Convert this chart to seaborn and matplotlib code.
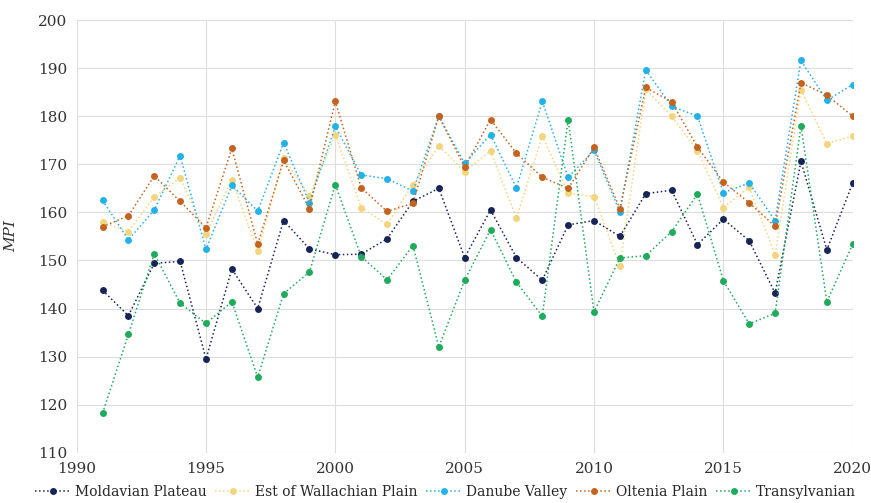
import numpy as np
import pandas as pd
import matplotlib
matplotlib.use("Agg")
import matplotlib.pyplot as plt
import seaborn as sns

years = list(range(1991, 2021))

moldavian = [143.8, 138.5, 149.4, 149.8, 129.5, 148.2, 140.0, 158.3, 152.4, 151.2,
             151.3, 154.5, 162.3, 165.0, 150.6, 160.5, 150.6, 145.9, 157.4, 158.3,
             155.0, 163.9, 164.6, 153.3, 158.6, 154.1, 143.2, 170.6, 152.2, 166.1]
wallachian = [158.0, 156.0, 163.2, 167.2, 155.5, 166.8, 151.9, 171.3, 163.5, 176.2,
              161.0, 157.5, 165.8, 173.8, 168.5, 172.8, 158.8, 175.9, 164.0, 163.3,
              148.8, 185.6, 180.0, 172.8, 161.0, 165.2, 151.2, 185.5, 174.3, 175.9]
danube = [162.5, 154.3, 160.5, 171.8, 152.3, 165.6, 160.3, 174.5, 162.0, 177.9,
          167.8, 167.0, 164.4, 180.0, 170.2, 176.2, 165.1, 183.1, 167.3, 172.9,
          160.1, 189.6, 182.1, 180.0, 164.1, 166.1, 158.3, 191.6, 183.3, 186.6]
oltenia = [157.0, 159.3, 167.6, 162.3, 156.8, 173.3, 153.4, 170.8, 160.8, 183.1,
           165.1, 160.2, 161.9, 180.0, 169.4, 179.3, 172.3, 167.3, 165.0, 173.5,
           160.8, 186.0, 183.0, 173.6, 166.3, 162.0, 157.1, 187.0, 184.4, 180.0]
transylvanian = [118.2, 134.6, 151.4, 141.1, 136.9, 141.4, 125.7, 143.1, 147.6, 165.8,
                 150.8, 146.0, 153.1, 132.0, 145.9, 156.4, 145.5, 138.4, 179.3, 139.3,
                 150.5, 151.0, 156.0, 163.8, 145.8, 136.8, 139.0, 178.0, 141.4, 153.4]

regions = ["Moldavian Plateau", "Est of Wallachian Plain", "Danube Valley",
           "Oltenia Plain", "Transylvanian"]
colors = ["#172457", "#f3d57c", "#23b2e6", "#c4621f", "#1fab5c"]

# long-form table for seaborn
df = pd.concat([
    pd.DataFrame({"year": years, "MPI": vals, "region": name})
    for name, vals in zip(regions, [moldavian, wallachian, danube, oltenia, transylvanian])
])

sns.set_style("whitegrid")
plt.rcParams["font.family"] = ["DejaVu Serif"]

fig, ax = plt.subplots(figsize=(8.71, 5.03), dpi=100)
fig.subplots_adjust(left=0.088, right=0.979, top=0.96, bottom=0.1)

sns.lineplot(data=df, x="year", y="MPI", hue="region", hue_order=regions,
             palette=colors, marker="o", markersize=5, markeredgewidth=0,
             linestyle=":", linewidth=1.1, legend=False, ax=ax)

ax.set_xlim(1990, 2020)
ax.set_ylim(110, 200)
ax.set_xticks(range(1990, 2021, 5))
ax.set_yticks(range(110, 201, 10))
ax.tick_params(axis="both", labelsize=11, colors="#333333", length=0)
ax.tick_params(axis="x", pad=7)
ax.tick_params(axis="y", pad=7)
ax.grid(True, color="#dddddd", linewidth=0.8)
for s in ax.spines.values():
    s.set_visible(False)
ax.set_xlabel("")
ax.set_ylabel("MPI", fontstyle="italic", fontsize=11, color="#333333", labelpad=14)

ax.legend(handles=ax.lines[:5], labels=regions, loc="upper center",
          bbox_to_anchor=(0.475, -0.045), ncol=5, frameon=False, fontsize=10,
          handlelength=2.6, columnspacing=0.6, handletextpad=0.3)

fig.savefig("out.png", dpi=100)
